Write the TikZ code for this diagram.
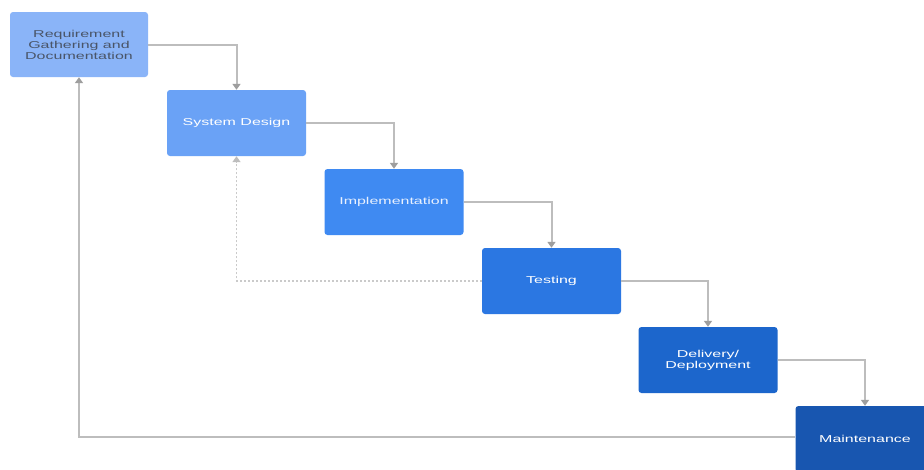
\documentclass[tikz,border=0pt]{standalone}
\usepackage{fontspec}
\setmainfont{Liberation Sans}
\newfontfamily\widefont[FakeStretch=1.6]{Liberation Sans}
\usetikzlibrary{arrows.meta}
\definecolor{cA}{HTML}{8AB4F8}
\definecolor{cB}{HTML}{6AA2F6}
\definecolor{cC}{HTML}{3F8AF2}
\definecolor{cD}{HTML}{2B77E2}
\definecolor{cE}{HTML}{1C66CC}
\definecolor{cF}{HTML}{1856B0}
\definecolor{lineC}{HTML}{BDBDBD}
\definecolor{tipC}{HTML}{9E9E9E}
\definecolor{txtDark}{HTML}{4A5568}
\tikzset{
  phase/.style={rectangle, rounded corners=3pt, minimum width=139pt, minimum height=66pt,
    inner sep=2pt, align=center, font=\widefont\fontsize{10}{11}\selectfont, text=white},
  flow/.style={draw=lineC, line width=2pt, -{Triangle[width=8pt,length=6pt,fill=tipC,color=tipC]}},
  back/.style={draw=lineC!80, line width=1.4pt, dash pattern=on 2pt off 2pt,
    -{Triangle[width=8pt,length=6pt,fill=lineC,color=lineC]}}
}
\begin{document}
\begin{tikzpicture}[x=1pt,y=-1pt]
\useasboundingbox[fill=white] (0,0) rectangle (924,469);
\node[phase, fill=cA, minimum width=138pt, minimum height=65pt, text=txtDark] (req) at (79,44.5) {Requirement\\Gathering and\\Documentation};
\node[phase, fill=cB] (des) at (236.5,123) {System Design};
\node[phase, fill=cC, text=white!80!cA] (imp) at (394,202) {Implementation};
\node[phase, fill=cD] (tst) at (551.5,281) {Testing};
\node[phase, fill=cE] (dep) at (708,360) {Delivery/\\Deployment};
\node[phase, fill=cF] (mnt) at (865,439) {Maintenance};
\draw[flow] (req.east) -| (des.north);
\draw[flow] (des.east) -| (imp.north);
\draw[flow] (imp.east) -| (tst.north);
\draw[flow] (tst.east) -| (dep.north);
\draw[flow] (dep.east) -| (mnt.north);
\draw[flow] (mnt.west |- 0,437) -| (req.south);
\draw[back] (tst.west) -| (des.south);
\end{tikzpicture}
\end{document}
